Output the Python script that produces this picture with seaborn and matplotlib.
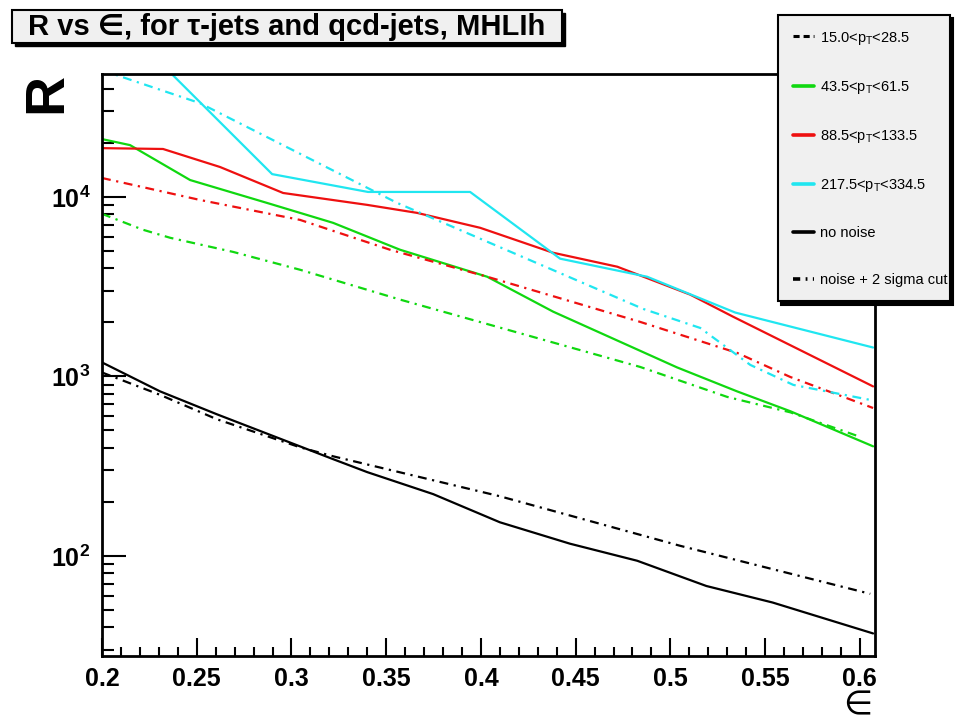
import numpy as np
import pandas as pd
import seaborn as sns
import matplotlib.pyplot as plt
from matplotlib.lines import Line2D
from matplotlib.patches import Rectangle
from matplotlib.ticker import MultipleLocator, FuncFormatter, LogLocator, NullFormatter

# efficiency (eps) and rejection (R), one pair per curve
eps_15_clean = [0.2, 0.2306, 0.2607, 0.322, 0.340, 0.3748, 0.410, 0.447, 0.4825, 0.519, 0.554, 0.607]
R_15_clean = [1197, 826, 615, 346, 293, 221, 154, 117, 94, 68, 55, 37]
eps_15_noise = [0.2, 0.2306, 0.2607, 0.3045, 0.322, 0.410, 0.505, 0.6055]
R_15_noise = [1052, 790, 577, 403, 359, 215, 114, 61.5]

eps_43_clean = [0.2, 0.2148, 0.2465, 0.2871, 0.322, 0.3573, 0.4033, 0.4381, 0.5036, 0.5353, 0.5633, 0.607]
R_43_clean = [21000, 19440, 12420, 9260, 7170, 5080, 3593, 2296, 1122, 825, 640, 408]
eps_43_noise = [0.2, 0.2217, 0.236, 0.2692, 0.3045, 0.3573, 0.484, 0.530, 0.5633, 0.6003]
R_43_noise = [8050, 6560, 5920, 4940, 3930, 2680, 1130, 769, 631, 460]

eps_88_clean = [0.2, 0.2322, 0.2623, 0.2956, 0.340, 0.3663, 0.3996, 0.438, 0.472, 0.5105, 0.533, 0.607]
R_88_clean = [18700, 18500, 14680, 10520, 9030, 8150, 6730, 4890, 4085, 2855, 2154, 880]
eps_88_noise = [0.2, 0.2517, 0.3045, 0.352, 0.4033, 0.484, 0.5353, 0.5633, 0.607]
R_88_noise = [12750, 9620, 7450, 5080, 3593, 2014, 1352, 993, 667]

eps_217_clean = [0.2, 0.2898, 0.3404, 0.3943, 0.4418, 0.4877, 0.5342, 0.607]
R_217_clean = [118000, 13400, 10660, 10660, 4530, 3593, 2270, 1449]
eps_217_noise = [0.2, 0.2517, 0.3558, 0.4857, 0.5158, 0.5422, 0.5649, 0.6055]
R_217_noise = [50800, 33300, 9260, 2377, 1862, 1159, 897, 740]

pt_bins = ['15.0<p$_{\\mathrm{T}}$<28.5', '43.5<p$_{\\mathrm{T}}$<61.5',
           '88.5<p$_{\\mathrm{T}}$<133.5', '217.5<p$_{\\mathrm{T}}$<334.5']
noise_labels = ['no noise', 'noise + 2 sigma cut']

curves = [
    (pt_bins[0], noise_labels[0], eps_15_clean, R_15_clean),
    (pt_bins[0], noise_labels[1], eps_15_noise, R_15_noise),
    (pt_bins[1], noise_labels[0], eps_43_clean, R_43_clean),
    (pt_bins[1], noise_labels[1], eps_43_noise, R_43_noise),
    (pt_bins[2], noise_labels[0], eps_88_clean, R_88_clean),
    (pt_bins[2], noise_labels[1], eps_88_noise, R_88_noise),
    (pt_bins[3], noise_labels[0], eps_217_clean, R_217_clean),
    (pt_bins[3], noise_labels[1], eps_217_noise, R_217_noise),
]
df = pd.concat([pd.DataFrame({'eps': e, 'R': r, 'bin': b, 'noise': n}) for b, n, e, r in curves],
               ignore_index=True)

colors = dict(zip(pt_bins, ['black', '#10d810', '#ee1010', '#20e6f0']))
dashdot = (4, 2.5, 1, 2.5)

sns.set_theme(style='white')
plt.rcParams['font.family'] = ['Liberation Sans', 'DejaVu Sans']
plt.rcParams['text.color'] = 'black'
plt.rcParams['xtick.color'] = 'black'
plt.rcParams['ytick.color'] = 'black'
plt.rcParams['mathtext.fontset'] = 'custom'
plt.rcParams['mathtext.rm'] = 'Liberation Sans'
plt.rcParams['mathtext.it'] = 'Liberation Sans:italic'
plt.rcParams['mathtext.bf'] = 'Liberation Sans:bold'

fig = plt.figure(figsize=(9.57, 7.22), dpi=100)
ax = fig.add_axes([0.1066, 0.0914, 0.8077, 0.8061])
ax.set_yscale('log')

sns.lineplot(data=df, x='eps', y='R', hue='bin', style='noise', palette=colors,
             dashes={noise_labels[0]: '', noise_labels[1]: dashdot},
             estimator=None, sort=False, linewidth=1.6, legend=False, ax=ax)

ax.set_xlim(0.2, 0.608)
ax.set_ylim(27.7, 48400)
ax.set_xlabel('')
ax.set_ylabel('')

# ROOT-like frame and ticks
for sp in ax.spines.values():
    sp.set_linewidth(2.0)
    sp.set_color('black')
ax.xaxis.set_major_locator(MultipleLocator(0.05))
ax.xaxis.set_minor_locator(MultipleLocator(0.01))
ax.xaxis.set_major_formatter(FuncFormatter(lambda v, p: '%g' % round(v, 2)))
ax.yaxis.set_major_locator(LogLocator(base=10))
ax.yaxis.set_minor_locator(LogLocator(base=10, subs=np.arange(2, 10)))
ax.yaxis.set_major_formatter(FuncFormatter(lambda v, p: r'$\mathbf{10^{%d}}$' % round(np.log10(v))))
ax.yaxis.set_minor_formatter(NullFormatter())
ax.tick_params(axis='both', which='both', direction='in', bottom=True, left=True,
               top=False, right=False, width=1.5, color='black')
ax.tick_params(axis='x', which='major', length=13, pad=8, labelsize=18)
ax.tick_params(axis='x', which='minor', length=6.5)
ax.tick_params(axis='y', which='major', length=17, pad=8.5, labelsize=18)
ax.tick_params(axis='y', which='minor', length=8.5)
for lab in ax.get_xticklabels():
    lab.set_fontweight('bold')

# axis titles placed like ROOT does
fig.text(47 / 957, 1 - 93 / 722, 'R', rotation=90, fontsize=40, fontweight='bold',
         ha='center', va='center')
fig.text(872 / 957, 1 - 714 / 722, '\u2208', fontsize=24, ha='right', va='baseline',
         family=['DejaVu Sans'])

# title box with shadow
fig.patches.append(Rectangle((15 / 957, 1 - 46 / 722), 550 / 957, 33 / 722,
                             transform=fig.transFigure, facecolor='black', edgecolor='black'))
fig.patches.append(Rectangle((12 / 957, 1 - 43 / 722), 550 / 957, 33 / 722,
                             transform=fig.transFigure, facecolor='#f0f0f0',
                             edgecolor='black', linewidth=1.5))
fig.text(287 / 957, 1 - 27 / 722, 'R vs \u2208, for \u03c4-jets and qcd-jets, MHLIh',
         fontsize=21, fontweight='bold', ha='center', va='center',
         family=['Liberation Sans', 'DejaVu Sans'])

# legend
handles = [
    Line2D([], [], color='black', lw=2.2, linestyle=(0, (2, 1.3))),
    Line2D([], [], color=colors[pt_bins[1]], lw=2.6),
    Line2D([], [], color=colors[pt_bins[2]], lw=2.6),
    Line2D([], [], color=colors[pt_bins[3]], lw=2.6),
    Line2D([], [], color='black', lw=2.6),
    Line2D([], [], color='black', lw=2.6, linestyle=(0, (2, 1.5, 0.5, 1.5))),
]
labels = pt_bins + noise_labels
leg = fig.legend(handles, labels, loc='upper left',
                 bbox_to_anchor=(778 / 957, 0.55, 172 / 957, 1 - 15 / 722 - 0.55),
                 mode='expand', borderaxespad=0, fontsize=10.5, labelspacing=2.21,
                 borderpad=1.0, handlelength=1.45, handletextpad=0.4,
                 fancybox=False, framealpha=1, facecolor='#f0f0f0', edgecolor='black',
                 shadow={'color': 'black', 'alpha': 1, 'ox': 2.5, 'oy': -2.5})
leg.get_frame().set_linewidth(1.5)

fig.savefig('out.png', dpi=100)
